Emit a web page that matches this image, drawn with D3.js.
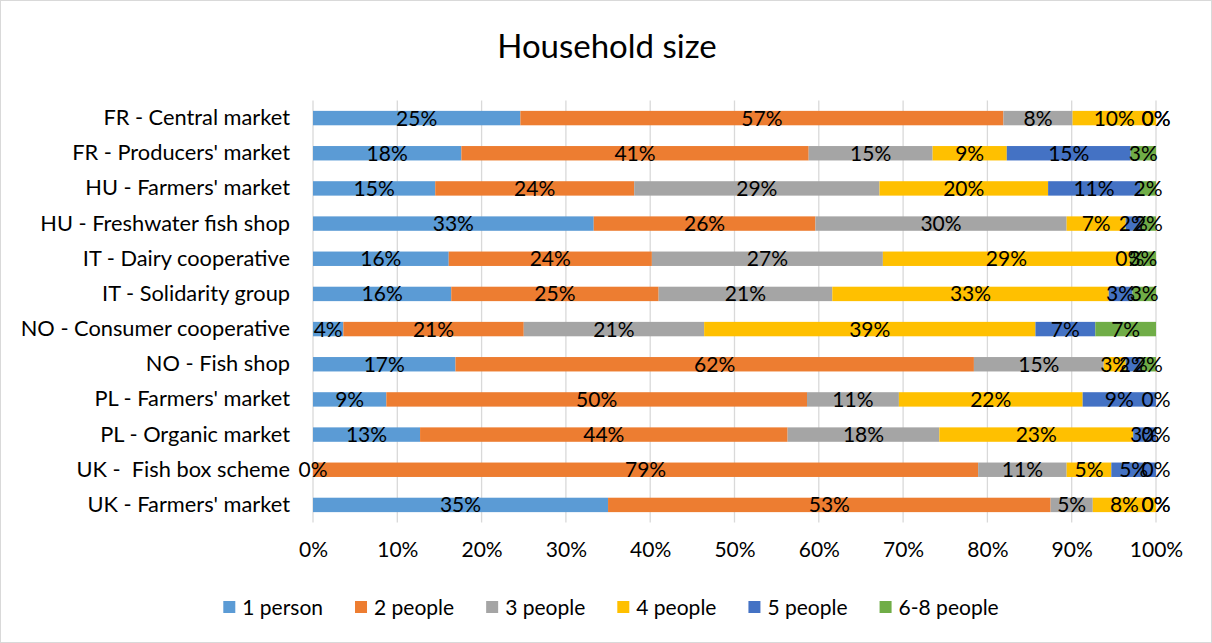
<!DOCTYPE html>
<html><head><meta charset="utf-8">
<script src="https://cdn.jsdelivr.net/npm/d3@7"></script>
<style>body{margin:0;background:#fff}svg{display:block}text{font-family:Lato,"Open Sans",sans-serif}</style>
</head><body><svg id="c" width="1212" height="643"></svg>
<script>
const categories = ["FR - Central market","FR - Producers' market","HU - Farmers' market","HU - Freshwater fish shop","IT - Dairy cooperative","IT - Solidarity group","NO - Consumer cooperative","NO - Fish shop","PL - Farmers' market","PL - Organic market","UK -  Fish box scheme","UK - Farmers' market"];
const seriesNames = ["1 person","2 people","3 people","4 people","5 people","6-8 people"];
const onePerson  = [24.6,17.6,14.5,33.3,16.1,16.4,3.6,16.9,8.7,12.7,0,35];
const twoPeople  = [57.3,41.2,23.6,26.3,24.1,24.6,21.4,61.5,49.9,43.6,78.9,52.5];
const threePeople= [8.2,14.7,29.1,29.8,27.4,20.6,21.4,15.4,10.9,18.0,10.5,5.0];
const fourPeople = [9.9,8.8,20.0,7.0,29.3,32.8,39.3,2.6,21.8,23.0,5.3,7.5];
const fivePeople = [0,14.7,10.9,1.8,0,2.8,7.1,1.8,8.7,2.7,5.3,0];
const sixEight   = [0,3.0,1.9,1.8,3.1,2.8,7.2,1.8,0,0,0,0];
const xTicks = [0,0.1,0.2,0.3,0.4,0.5,0.6,0.7,0.8,0.9,1.0];
const colors = ["#5B9BD5","#ED7D31","#A5A5A5","#FFC000","#4472C4","#70AD47"];

const seriesVals = [onePerson,twoPeople,threePeople,fourPeople,fivePeople,sixEight];
const rows = categories.map((c,i)=>{const o={cat:c};seriesNames.forEach((s,j)=>o[s]=seriesVals[j][i]);return o;});
const stack = d3.stack().keys(seriesNames).offset(d3.stackOffsetExpand)(rows);

const FS = 21;
const svg = d3.select("#c");
svg.append("rect").attr("x",0.5).attr("y",0.5).attr("width",1211).attr("height",642).attr("fill","#fff").attr("stroke","#d9d9d9");

const x = d3.scaleLinear().domain([0,1]).range([313,1156]);
const y = d3.scaleBand().domain(categories).range([100.5,522.5]).paddingInner(0.59).paddingOuter(0.295);

svg.append("text").attr("x",607).attr("y",58).attr("text-anchor","middle").attr("font-size",33).attr("fill","#000").text("Household size");

// gridlines
svg.append("g").selectAll("line").data(xTicks).join("line")
  .attr("x1",d=>x(d)).attr("x2",d=>x(d)).attr("y1",100.5).attr("y2",522.5)
  .attr("stroke","#d9d9d9").attr("stroke-width",1.3);

// x axis
const xa = svg.append("g").attr("transform","translate(0,539)")
  .call(d3.axisBottom(x).tickValues(xTicks).tickFormat(d3.format(".0%")).tickSize(0));
xa.select(".domain").remove();
xa.selectAll("text").attr("font-size",FS).attr("fill","#000").attr("dy","0.71em").style("font-family","Lato");

// y axis
const ya = svg.append("g").attr("transform","translate(296,0)")
  .call(d3.axisLeft(y).tickSize(0).tickPadding(6));
ya.select(".domain").remove();
ya.selectAll("text").attr("font-size",21.8).attr("fill","#000").style("font-family","Lato").style("white-space","pre");

// bars
const g = svg.append("g");
stack.forEach((s,j)=>{
  g.append("g").attr("fill",colors[j]).selectAll("rect").data(s).join("rect")
    .attr("x",d=>x(d[0])).attr("width",d=>x(d[1])-x(d[0]))
    .attr("y",d=>y(d.data.cat)).attr("height",y.bandwidth());
});
// labels
stack.forEach((s,j)=>{
  g.append("g").selectAll("text").data(s).join("text")
    .attr("x",d=>(x(d[0])+x(d[1]))/2).attr("y",d=>y(d.data.cat)+y.bandwidth()/2)
    .attr("dy","0.36em").attr("text-anchor","middle").attr("font-size",FS).attr("fill","#000")
    .text(d=>Math.round(d.data[s.key])+"%");
});

// legend
const lg = svg.append("g");
let lx = 0;
seriesNames.forEach((n,j)=>{
  const it = lg.append("g").attr("transform",`translate(${lx},0)`);
  it.append("rect").attr("x",0).attr("y",-6).attr("width",12).attr("height",12).attr("fill",colors[j]);
  const t = it.append("text").attr("x",19).attr("y",0).attr("dy","0.36em").attr("font-size",FS).attr("fill","#000").text(n);
  lx += 19 + t.node().getComputedTextLength() + 32;
});
const lw = lx - 32;
lg.attr("transform",`translate(${611 - lw/2},607)`);
</script></body></html>
